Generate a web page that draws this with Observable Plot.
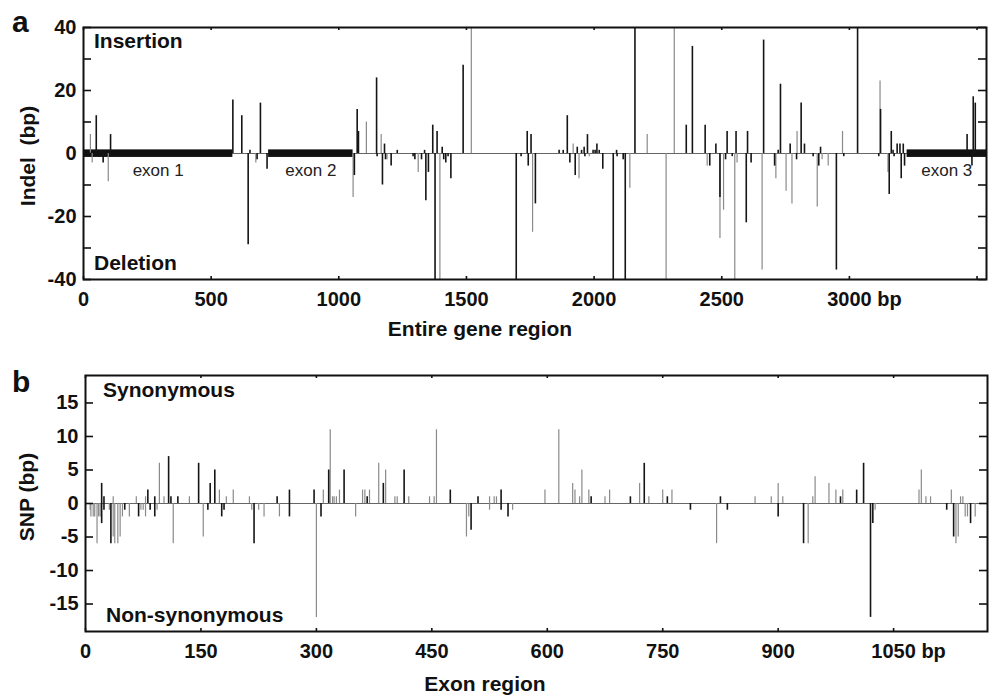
<!DOCTYPE html>
<html><head><meta charset="utf-8">
<script src="https://cdn.jsdelivr.net/npm/d3@7"></script>
<script src="https://cdn.jsdelivr.net/npm/@observablehq/plot@0.6"></script>
<style>
html,body{margin:0;padding:0;background:#fff;}
#wrap{position:relative;width:989px;height:695px;overflow:hidden;background:#fff;}
#wrap svg{position:absolute;left:0;overflow:visible;}
</style></head><body><div id="wrap"></div>
<script>
const FONT = "'Liberation Sans', Arial, Helvetica, sans-serif";

// Panel a: indels along entire gene region [position bp, length bp (+ insertion / - deletion), tone]
const indels = [
[27,6,"g"],[34,-3,"g"],[50,12,"k"],[77,-3,"k"],[97,-9,"g"],[106,6,"k"],[585,17,"k"],[620,12,"k"],[645,-29,"k"],[652,1,"k"],[675,-3,"g"],[680,-2,"k"],[693,16,"k"],[719,-5,"k"],
[1056,-14,"g"],[1061,-7,"k"],[1072,14,"k"],[1077,7,"k"],[1108,10,"g"],[1148,24,"k"],[1150,-1,"k"],[1166,6,"g"],[1171,-10,"k"],[1179,3,"k"],[1183,-2,"k"],[1189,-2,"g"],[1205,-4,"k"],[1229,1,"k"],
[1291,-1,"k"],[1298,-2,"k"],[1311,-6,"g"],[1324,-2,"k"],[1336,1,"k"],[1341,-15,"k"],[1351,-6,"k"],[1368,9,"k"],[1377,-40,"k"],[1385,7,"k"],[1396,-40,"g"],[1405,2,"k"],[1411,-2,"k"],[1419,-3,"k"],[1428,-1,"k"],[1439,-8,"k"],[1487,28,"k"],[1519,40,"g"],
[1695,-40,"k"],[1714,-1,"k"],[1738,7,"k"],[1742,-4,"k"],[1753,6,"k"],[1759,-25,"g"],[1770,-16,"k"],[1863,1,"k"],[1879,1,"k"],[1895,12,"k"],[1905,-3,"k"],[1918,3,"g"],[1926,-7,"k"],[1934,2,"k"],[1941,-8,"g"],[1951,1,"k"],[1961,2,"k"],[1964,-1,"k"],[1974,6,"k"],[1981,-1,"g"],[1996,1,"k"],[2004,1,"k"],[2011,3,"k"],[2020,1,"k"],[2034,-5,"k"],
[2075,-40,"k"],[2088,1,"k"],[2090,-1,"k"],[2114,-2,"k"],[2122,-40,"k"],[2140,-11,"g"],[2160,40,"k"],[2208,6,"g"],[2282,-40,"g"],[2314,40,"g"],[2361,9,"k"],[2385,34,"k"],[2435,9,"k"],[2443,-4,"g"],[2453,-4,"k"],[2477,3,"k"],[2493,-27,"g"],[2493,-14,"k"],[2507,-18,"g"],[2515,-2,"k"],[2521,7,"k"],[2541,-1,"k"],[2551,-40,"g"],[2556,7,"k"],[2560,-3,"g"],[2596,-22,"k"],[2601,7,"k"],[2615,-3,"k"],
[2658,-37,"g"],[2664,36,"k"],[2707,-4,"k"],[2712,-8,"g"],[2721,1,"k"],[2730,22,"k"],[2752,-12,"g"],[2768,3,"k"],[2775,-16,"g"],[2793,-2,"k"],[2795,7,"g"],[2811,16,"k"],[2824,3,"k"],[2858,-1,"k"],[2874,-17,"g"],[2880,-4,"k"],[2887,2,"k"],[2893,-2,"g"],[2917,-4,"g"],[2949,-37,"k"],[2973,7,"g"],[2978,-1,"k"],
[3032,40,"k"],[3115,-1,"k"],[3120,23,"g"],[3122,14,"k"],[3151,-6,"g"],[3156,-13,"k"],[3164,7,"k"],[3171,1,"k"],[3175,-1,"k"],[3187,3,"k"],[3198,3,"k"],[3203,-8,"k"],[3211,3,"k"],[3216,-4,"k"],[3461,6,"k"],[3480,-4,"k"],[3485,18,"k"],[3493,16,"k"]
];

const exonNames = ["exon 1", "exon 2", "exon 3"];
const exonStart = [0, 725, 3226];
const exonEnd = [585, 1056, 3537];

// Panel b: SNPs along exon region [position bp, count (+ synonymous / - non-synonymous), tone]
const snps = [
[6,-1,"g"],[7,-2,"g"],[10,-2,"g"],[12,-2,"g"],[15,-6,"g"],[17,-2,"g"],[19,-2,"g"],[21,3,"k"],[21,-3,"k"],[24,1,"k"],[24,-1,"k"],[31,-1,"g"],[33,-6,"k"],[36,1,"g"],[36,-5,"g"],[38,-6,"g"],[42,-6,"g"],[45,-5,"g"],[48,-2,"g"],[51,-1,"k"],[57,-2,"g"],
[66,1,"g"],[69,-2,"k"],[72,-1,"g"],[75,-1,"g"],[78,1,"g"],[78,-2,"g"],[81,2,"k"],[84,-1,"k"],[90,1,"k"],[90,-2,"k"],[93,-1,"g"],[96,6,"g"],[102,1,"g"],[108,7,"k"],[111,1,"k"],[114,-6,"g"],[120,1,"k"],[135,1,"g"],
[147,6,"k"],[153,-5,"g"],[159,-1,"k"],[162,3,"k"],[168,5,"k"],[174,2,"g"],[177,-2,"k"],[180,-1,"k"],[183,1,"g"],[192,2,"g"],[213,1,"g"],[216,-1,"g"],[219,-6,"k"],[225,-1,"g"],[232,-2,"g"],[249,1,"k"],[252,-2,"g"],[265,2,"k"],[265,-2,"k"],
[297,2,"k"],[300,-17,"g"],[306,-2,"k"],[309,2,"g"],[316,5,"k"],[318,11,"g"],[321,1,"g"],[323,1,"g"],[326,1,"g"],[330,2,"g"],[336,5,"k"],[351,-2,"g"],[360,2,"g"],[363,2,"g"],[366,1,"k"],[369,2,"g"],[381,6,"g"],[387,3,"k"],[390,5,"g"],[402,1,"g"],[405,1,"g"],[414,5,"k"],[420,1,"g"],
[447,1,"g"],[453,1,"g"],[456,11,"g"],[474,2,"k"],[495,-5,"g"],[498,-2,"g"],[501,-4,"k"],[510,1,"k"],[525,1,"g"],[525,-1,"g"],[531,1,"g"],[534,1,"g"],[540,2,"k"],[540,-1,"k"],[549,-2,"k"],[555,-1,"g"],
[597,2,"g"],[615,11,"g"],[633,3,"g"],[636,2,"g"],[642,1,"g"],[645,5,"g"],[654,2,"g"],[657,1,"k"],[675,1,"g"],[681,2,"g"],[708,1,"k"],[720,3,"g"],[726,6,"k"],[732,1,"g"],[750,2,"g"],[756,1,"k"],[762,2,"g"],[786,-1,"k"],
[820,-6,"g"],[825,1,"k"],[834,-1,"k"],[870,1,"g"],[891,1,"g"],[900,3,"g"],[900,-2,"k"],[906,1,"g"],[933,-6,"k"],[939,-6,"g"],[945,1,"g"],[948,4,"g"],[966,3,"g"],[975,2,"g"],[981,1,"k"],[984,2,"g"],[1002,2,"k"],[1011,6,"k"],[1020,-17,"k"],[1023,-3,"k"],[1026,-1,"g"],
[1083,2,"g"],[1086,5,"g"],[1092,1,"g"],[1098,1,"g"],[1119,-1,"k"],[1125,2,"g"],[1128,-5,"k"],[1131,-6,"g"],[1134,-5,"g"],[1137,1,"g"],[1140,1,"g"],[1143,-2,"g"],[1146,-2,"g"],[1150,-3,"k"],[1156,-2,"g"]
];

const geneTicks = [0,500,1000,1500,2000,2500,3000,3500];
const geneTickLabels = [0,500,1000,1500,2000,2500,3000];
const indelTicks = [-40,-30,-20,-10,0,10,20,30,40];
const indelTickLabels = [-40,-20,0,20,40];
const exonTicks = [0,150,300,450,600,750,900,1050];
const snpTicks = [-15,-10,-5,0,5,10,15];

function panel({xDomain, yDomain, ml, mr, mt, mb, height, spikes, xTicks, xLabels, yTicks, yLabels, extra = []}) {
  const innerW = 989 - ml - mr, innerH = height - mt - mb;
  const rows = spikes.map(([pos, len, tone]) => ({pos, len, tone}));
  const gray = rows.filter(d => d.tone === "g"), black = rows.filter(d => d.tone === "k");
  const lastLabel = xLabels[xLabels.length - 1];
  const tickStyle = {stroke: "#111", strokeWidth: 1.6};
  const textStyle = {fontSize: 20, fontWeight: "bold", fill: "#111"};
  return Plot.plot({
    width: 989, height,
    marginLeft: ml, marginRight: mr, marginTop: mt, marginBottom: mb,
    x: {domain: xDomain},
    y: {domain: yDomain},
    style: {fontFamily: FONT, background: "transparent", overflow: "visible"},
    marks: [
      Plot.ruleY([0], {stroke: "#666", strokeWidth: 1}),
      ...extra,
      Plot.ruleX(gray, {x: "pos", y1: 0, y2: "len", stroke: "#8a8a8a", strokeWidth: 1.2}),
      Plot.ruleX(black, {x: "pos", y1: 0, y2: "len", stroke: "#151515", strokeWidth: 1.6}),
      Plot.frame({stroke: "#111", strokeWidth: 2}),
      Plot.tickX(xTicks, {x: d => d, insetBottom: innerH - 3, ...tickStyle}),
      Plot.tickX(xTicks, {x: d => d, insetTop: innerH - 3, ...tickStyle}),
      Plot.tickY(yTicks, {y: d => d, insetRight: innerW - 8, ...tickStyle}),
      Plot.tickY(yTicks, {y: d => d, insetLeft: innerW - 8, ...tickStyle}),
      Plot.axisX({ticks: xLabels, tickSize: 0, tickPadding: 12, tickFormat: d => String(d), label: null, ...textStyle}),
      Plot.text([lastLabel], {x: d => d, frameAnchor: "bottom", dy: 12, dx: 27.8, lineAnchor: "top", textAnchor: "start", text: () => "bp", ...textStyle}),
      Plot.axisY({ticks: yLabels, tickSize: 0, tickPadding: 7, tickFormat: d => String(d), label: null, ...textStyle})
    ]
  });
}

const exonTable = exonNames.map((name, i) => ({name, start: exonStart[i], end: exonEnd[i]}));

const svgA = panel({
  xDomain: [0, 3537], yDomain: [-40, 40],
  ml: 83, mr: 3, mt: 27, mb: 51, height: 330,
  spikes: indels, xTicks: geneTicks, xLabels: geneTickLabels, yTicks: indelTicks, yLabels: indelTickLabels,
  extra: [
    Plot.rect(exonTable, {x1: "start", x2: "end", y1: -1.25, y2: 1.15, fill: "#111"}),
    Plot.text(exonTable, {x: d => (d.start + d.end) / 2, y: 0, dy: 17, text: "name", fontSize: 17, fill: "#222", lineAnchor: "middle"})
  ]
});
svgA.style.top = "0px";

const svgB = panel({
  xDomain: [0, 1172], yDomain: [-19.1, 19.1],
  ml: 85, mr: 2, mt: 45, mb: 64, height: 365,
  spikes: snps, xTicks: exonTicks, xLabels: exonTicks, yTicks: snpTicks, yLabels: snpTicks
});
svgB.style.top = "330px";

const wrap = document.getElementById("wrap");
wrap.appendChild(svgA);
wrap.appendChild(svgB);

// Overlay with panel letters, titles and annotations
const overlay = d3.select(wrap).append("svg")
  .attr("width", 989).attr("height", 695)
  .style("top", "0px").style("pointer-events", "none")
  .attr("font-family", FONT).attr("fill", "#111");

const notes = [
  {t: "a", x: 12, y: 32, size: 30, anchor: "start"},
  {t: "b", x: 12, y: 392, size: 30, anchor: "start"},
  {t: "Insertion", x: 94, y: 48, size: 21, anchor: "start"},
  {t: "Deletion", x: 94, y: 270, size: 21, anchor: "start"},
  {t: "Synonymous", x: 103, y: 397, size: 21, anchor: "start"},
  {t: "Non-synonymous", x: 106, y: 622, size: 21, anchor: "start"},
  {t: "Entire gene region", x: 480, y: 336, size: 21, anchor: "middle"},
  {t: "Exon region", x: 485, y: 691, size: 21, anchor: "middle"}
];
overlay.selectAll("text.note").data(notes).join("text")
  .attr("class", "note")
  .attr("x", d => d.x).attr("y", d => d.y)
  .attr("text-anchor", d => d.anchor)
  .attr("font-size", d => d.size)
  .attr("font-weight", "bold")
  .text(d => d.t);

const yTitles = [
  {t: "Indel  (bp)", x: 27, y: 156},
  {t: "SNP (bp)", x: 26, y: 497}
];
overlay.selectAll("text.ytitle").data(yTitles).join("text")
  .attr("class", "ytitle")
  .attr("transform", d => `translate(${d.x},${d.y}) rotate(-90)`)
  .attr("text-anchor", "middle")
  .attr("dominant-baseline", "central")
  .attr("font-size", 21)
  .attr("font-weight", "bold")
  .style("white-space", "pre")
  .text(d => d.t);
</script>
</body></html>
